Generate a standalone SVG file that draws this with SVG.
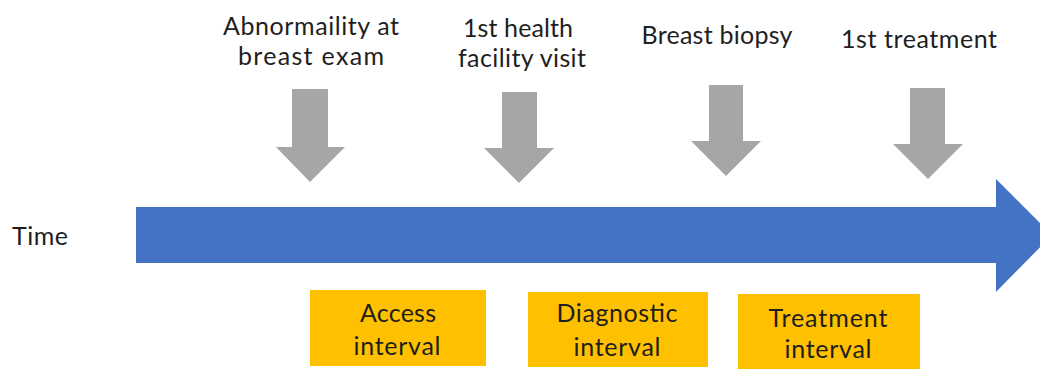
<svg xmlns="http://www.w3.org/2000/svg" width="1040" height="369" viewBox="0 0 1040 369">
<style>
text{font-family:"Lato","Liberation Sans",sans-serif;font-size:25px;fill:#1e1e1e;text-anchor:middle}
.ev{fill:#a6a6a6}
.box{fill:#ffc000}
</style>
<rect width="1040" height="369" fill="#ffffff"/>
<g id="timeline">
<polygon points="136,207 996,207 996,179 1052,235 996,292 996,263 136,263" fill="#4472c4"/>
<text x="40" y="245" textLength="56">Time</text>
</g>
<g id="event-abnormality">
<text x="311" y="35" textLength="176">Abnormaility at</text>
<text x="311" y="65" textLength="146">breast exam</text>
<polygon class="ev" points="292,89 328,89 328,147 345,147 310,182 276,147 292,147"/>
</g>
<g id="event-first-visit">
<text x="518" y="37" textLength="110">1st health</text>
<text x="522" y="67" textLength="128">facility visit</text>
<polygon class="ev" points="502,92 537,92 537,148 554,148 519,183 484,148 502,148"/>
</g>
<g id="event-biopsy">
<text x="717" y="44" textLength="151">Breast biopsy</text>
<polygon class="ev" points="709,85 743,85 743,141 761,141 726,176 691,141 709,141"/>
</g>
<g id="event-treatment">
<text x="919" y="48" textLength="156">1st treatment</text>
<polygon class="ev" points="910,88 945,88 945,144 963,144 928,179 893,144 910,144"/>
</g>
<g id="access-interval">
<rect class="box" x="310" y="290" width="176" height="76"/>
<text x="398" y="322" textLength="76">Access</text>
<text x="397" y="355" textLength="87">interval</text>
</g>
<g id="diagnostic-interval">
<rect class="box" x="528" y="292" width="180" height="75"/>
<text x="617" y="322" textLength="121">Diagnostic</text>
<text x="617" y="356" textLength="87">interval</text>
</g>
<g id="treatment-interval">
<rect class="box" x="738" y="294" width="182" height="75"/>
<text x="828" y="327" textLength="119">Treatment</text>
<text x="828" y="358" textLength="87">interval</text>
</g>
<g id="connectors"></g>
</svg>
